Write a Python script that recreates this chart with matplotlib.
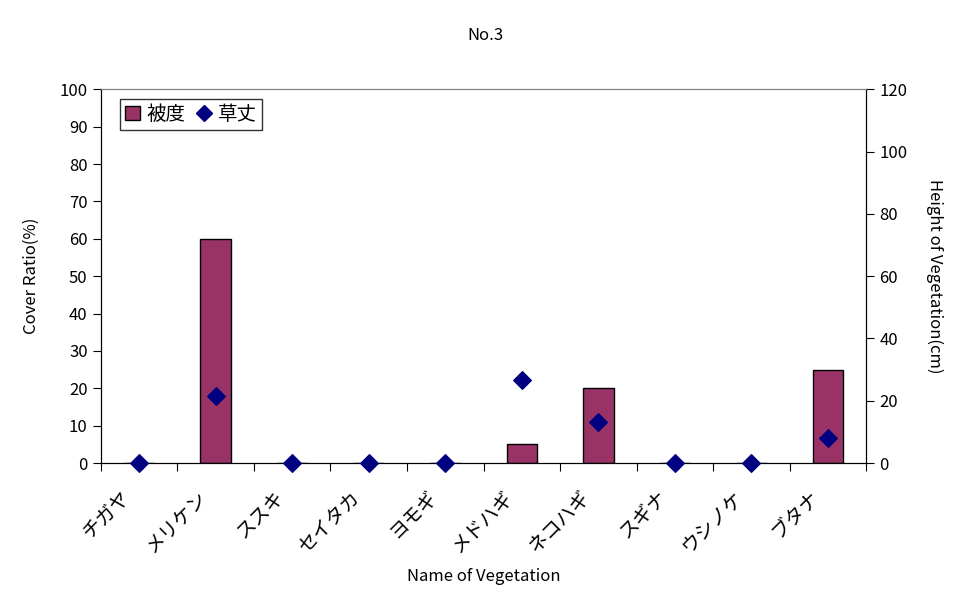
import matplotlib
matplotlib.use("Agg")
import matplotlib.pyplot as plt
import matplotlib.transforms as mtransforms
import numpy as np
from matplotlib.lines import Line2D
from matplotlib.patches import Patch

plt.rcParams['font.family'] = ['Noto Sans CJK JP', 'DejaVu Sans']

categories = ["チガヤ", "メリケン", "ススキ", "セイタカ", "ヨモギ", "メドハギ", "ネコハギ", "スギナ", "ウシノケ", "ブタナ"]
cover = [0, 60, 0, 0, 0, 5, 20, 0, 0, 25]
height = [0, 21.5, 0, 0, 0, 26.6, 13.2, 0, 0, 8.0]

bar_color = "#993366"
marker_color = "#000080"

fig = plt.figure(figsize=(9.7, 6.03), dpi=100)
ax = fig.add_axes([0.104, 0.232, 0.789, 0.620])
x = np.arange(len(categories))
ax.bar(x, cover, width=0.4, color=bar_color, edgecolor="black", linewidth=1, zorder=2)
ax.set_xlim(-0.5, len(categories) - 0.5)
ax.set_ylim(0, 100)
ax.set_yticks(np.arange(0, 101, 10))
ax.set_xticks(np.arange(-0.5, len(categories), 1.0))
ax.set_xticklabels([])
ax.set_xticks(x, minor=True)
ax.set_xticklabels(categories, minor=True, rotation=45, ha="right", rotation_mode="anchor", fontsize=14)
ax.tick_params(axis="x", which="minor", length=0, pad=17)
ax.tick_params(axis="x", which="major", length=6, direction="out")
ax.tick_params(axis="y", labelsize=12, length=6, direction="out")
offset = mtransforms.ScaledTranslation(-19 / 100, 0, fig.dpi_scale_trans)
for lbl in ax.get_xticklabels(minor=True):
    lbl.set_transform(lbl.get_transform() + offset)
ax.set_ylabel("Cover Ratio(%)", fontsize=12, labelpad=14)
ax.set_xlabel("Name of Vegetation", fontsize=12, labelpad=8)
ax.spines["top"].set_color("#808080")

ax2 = ax.twinx()
ax2.scatter(x, height, marker="D", s=80, color=marker_color, zorder=3, clip_on=False)
ax2.set_ylim(0, 120)
ax2.set_yticks(np.arange(0, 121, 20))
ax2.tick_params(axis="y", labelsize=12, length=6, direction="out")
ax2.set_ylabel("Height of Vegetation(cm)", fontsize=12, rotation=-90, labelpad=26)
ax2.spines["top"].set_color("#808080")

handles = [Patch(facecolor=bar_color, edgecolor="black", label="被度"),
           Line2D([], [], marker="D", color=marker_color, linestyle="None", markersize=8, label="草丈")]
leg = ax2.legend(handles=handles, loc="upper left", ncol=2, fontsize=14, frameon=True,
                 fancybox=False, edgecolor="black", handlelength=0.8, handletextpad=0.3,
                 columnspacing=0.6, borderpad=0.25, bbox_to_anchor=(0.012, 1.0))
leg.get_frame().set_linewidth(1)

fig.suptitle("No.3", fontsize=12, y=0.955)
fig.savefig("out.png", dpi=100)
